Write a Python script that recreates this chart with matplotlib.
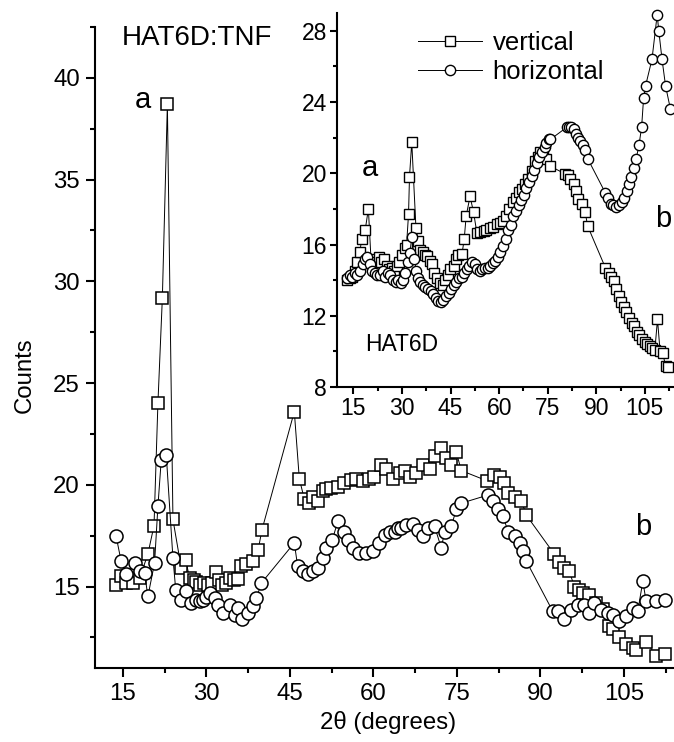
import matplotlib
matplotlib.use("Agg")
import matplotlib.pyplot as plt
from matplotlib.ticker import MultipleLocator
from matplotlib.lines import Line2D

plt.rcParams["font.family"] = ["Liberation Sans", "DejaVu Sans"]

# ---- HAT6D:TNF (main panel) ----
main_vert_x = [13.8, 14.7, 15.6, 16.8, 18.0, 19.5, 20.6, 21.3, 22.1, 23.0, 24.0, 25.5,
               26.3, 27.0, 27.7, 28.2, 28.8, 29.6, 30.3, 31.0, 31.7, 32.3, 32.9, 33.6,
               34.2, 35.0, 35.7, 36.3, 37.2, 38.4, 39.3, 40.0, 45.8, 46.7, 47.6, 48.5,
               49.1, 50.0, 50.9, 51.5, 52.4, 53.6, 54.8, 56.0, 56.9, 58.1, 59.3, 60.2,
               61.4, 62.3, 63.5, 64.7, 65.6, 66.5, 67.7, 68.9, 70.1, 71.0, 72.2, 73.1,
               74.0, 74.9, 75.8, 80.4, 81.6, 82.7, 83.4, 84.2, 85.4, 86.6, 87.5, 92.5,
               93.4, 94.3, 95.2, 96.1, 97.0, 97.6, 98.8, 100.0, 101.2, 102.4, 103.0,
               104.2, 105.4, 106.6, 107.2, 109.0, 110.8, 112.3]
main_vert_y = [15.1, 15.5, 15.2, 15.2, 15.4, 16.6, 18.0, 24.0, 29.2, 38.7, 18.3, 15.9,
               16.3, 15.4, 15.3, 15.25, 15.1, 15.2, 15.1, 15.2, 15.7, 15.3, 15.1, 15.2,
               15.4, 15.3, 15.35, 16.0, 16.1, 16.25, 16.8, 17.8, 23.6, 20.3, 19.3, 19.1,
               19.4, 19.2, 19.7, 19.8, 19.85, 19.9, 20.1, 20.25, 20.3, 20.2, 20.3, 20.4,
               21.0, 20.8, 20.3, 20.6, 20.7, 20.4, 20.6, 21.0, 20.8, 21.4, 21.8, 21.3,
               21.0, 21.6, 20.7, 20.2, 20.5, 20.4, 20.1, 19.6, 19.4, 19.2, 18.5, 16.6,
               16.2, 15.9, 15.75, 15.0, 14.85, 14.7, 14.6, 14.2, 13.9, 13.05, 12.9,
               12.5, 12.2, 12.0, 11.9, 12.3, 11.6, 11.7]

main_horz_x = [13.8, 14.7, 15.6, 17.1, 18.0, 18.9, 19.5, 20.7, 21.3, 21.9, 22.8, 24.0,
               24.5, 25.5, 26.4, 27.3, 28.2, 28.8, 29.4, 30.0, 30.6, 31.5, 32.1, 33.0,
               34.2, 35.1, 35.7, 36.4, 37.5, 38.4, 39.0, 39.9, 45.8, 46.4, 47.3, 48.2,
               49.1, 50.0, 50.9, 51.5, 52.6, 53.6, 54.8, 55.4, 56.3, 57.5, 58.7, 59.9,
               61.1, 62.0, 62.9, 63.8, 64.4, 65.0, 65.9, 67.1, 68.0, 68.9, 69.8, 71.0,
               72.2, 72.8, 74.0, 74.9, 75.8, 80.6, 81.5, 82.4, 83.3, 84.2, 85.4, 86.3,
               86.9, 87.5, 92.2, 93.1, 94.3, 95.5, 96.7, 97.9, 98.8, 99.7, 100.9, 102.1,
               103.0, 104.2, 105.4, 106.6, 107.5, 108.4, 109.0, 110.8, 112.3]
main_horz_y = [17.47, 16.24, 15.6, 16.16, 15.75, 15.67, 14.52, 16.16, 18.94, 21.24, 21.48,
               16.4, 14.85, 14.36, 14.77, 14.2, 14.36, 14.3, 14.36, 14.5, 14.69, 14.44,
               14.1, 13.7, 14.1, 13.6, 13.95, 13.4, 13.7, 14.03, 14.44, 15.18, 17.15,
               16.0, 15.75, 15.6, 15.75, 15.92, 16.4, 16.9, 17.27, 18.2, 17.7, 17.3,
               16.9, 16.65, 16.65, 16.73, 17.15, 17.55, 17.7, 17.7, 17.9, 17.9, 18.05,
               18.1, 17.8, 17.5, 17.9, 17.96, 16.9, 17.7, 17.96, 18.8, 19.1, 19.5, 19.2,
               18.8, 18.45, 17.7, 17.5, 17.15, 16.73, 16.24, 13.8, 13.8, 13.4, 13.87,
               14.1, 14.1, 13.7, 14.2, 13.87, 13.7, 13.6, 13.3, 13.54, 13.95, 13.8,
               15.26, 14.28, 14.28, 14.36]

# ---- HAT6D (inset) ----
ins_vert_x = [13.0, 13.8, 14.6, 15.4, 16.2, 17.0, 17.5, 18.6, 19.6, 20.4, 21.2, 22.0,
              22.8, 23.6, 24.4, 25.2, 26.0, 26.8, 27.6, 28.4, 29.2, 30.0, 30.8, 31.4,
              32.0, 32.3, 33.0, 34.3, 35.0, 35.6, 36.4, 37.2, 37.7, 38.5, 39.2, 40.0,
              40.8, 41.8, 42.6, 43.4, 44.2, 44.9, 45.9, 46.6, 47.4, 48.5, 49.2, 49.8,
              51.0, 52.1, 53.1, 54.0, 55.2, 56.0, 57.2, 58.0, 59.3, 60.2, 61.3, 62.1,
              62.9, 64.4, 65.2, 66.0, 67.0, 68.1, 69.0, 70.1, 71.2, 72.0, 72.7, 73.6,
              74.6, 75.8, 80.4, 81.2, 82.0, 83.0, 83.8, 84.5, 85.6, 86.6, 87.3, 92.8,
              93.8, 94.6, 95.4, 96.2, 96.9, 97.7, 98.5, 99.3, 100.1, 100.9, 101.7,
              102.5, 103.3, 104.1, 104.9, 105.7, 106.5, 107.3, 108.1, 108.9, 109.7,
              110.5, 111.4, 112.3]
ins_vert_y = [14.0, 14.1, 14.2, 14.5, 15.0, 15.6, 16.3, 16.8, 18.0, 15.2, 14.8, 15.0,
              15.3, 15.0, 15.2, 14.8, 14.6, 14.7, 14.5, 14.8, 15.0, 15.4, 15.8, 16.0,
              17.7, 19.8, 21.75, 16.9, 16.2, 15.7, 15.6, 15.4, 15.35, 15.1, 14.9, 14.4,
              14.1, 13.85, 13.7, 14.0, 14.3, 14.6, 14.8, 15.2, 15.4, 15.45, 16.3, 17.6,
              18.7, 17.8, 16.67, 16.7, 16.76, 16.8, 16.95, 17.0, 17.14, 17.2, 17.33, 17.6,
              17.99, 18.37, 18.6, 18.93, 19.1, 19.4, 19.7, 20.15, 20.7, 20.9, 21.2, 21.0,
              20.8, 20.4, 19.96, 19.9, 19.7, 19.4, 19.0, 18.55, 18.27, 17.8, 17.05, 14.7,
              14.4, 14.2, 13.94, 13.5, 13.1, 12.8, 12.5, 12.2, 11.9, 11.6, 11.4,
              11.1, 10.9, 10.7, 10.5, 10.4, 10.3, 10.2, 10.1, 11.8, 10.0,
              9.9, 9.2, 9.1]

ins_horz_x = [13.0, 13.8, 14.6, 15.4, 16.2, 17.0, 17.8, 18.5, 19.2, 20.0, 20.8, 21.6,
              22.4, 23.2, 24.0, 24.8, 25.6, 26.4, 27.2, 28.0, 28.8, 29.6, 30.4, 31.0,
              31.8, 32.4, 33.0, 33.8, 34.4, 35.0, 35.6, 36.4, 37.2, 38.0, 38.8, 39.6,
              40.4, 41.2, 42.0, 42.8, 43.6, 44.4, 45.2, 46.0, 46.8, 47.6, 48.4, 49.2,
              50.0, 50.8, 51.6, 52.4, 53.2, 54.0, 54.8, 55.6, 56.4, 57.2, 58.0, 58.8,
              59.6, 60.4, 61.2, 62.0, 62.8, 63.6, 64.4, 65.2, 66.0, 66.8, 67.6, 68.4,
              69.2, 70.0, 70.8, 71.6, 72.4, 73.2, 74.0, 74.6, 75.3, 75.8, 81.0, 81.6,
              82.2, 83.0, 83.6, 84.2, 85.0, 85.8, 86.6, 87.4, 92.8, 93.6, 94.4, 95.2,
              96.0, 96.9, 97.8, 98.6, 99.4, 100.2, 100.8, 101.6, 102.3, 103.2, 104.0,
              104.6, 105.2, 107.2, 108.8, 109.3, 110.3, 111.4, 112.9]
ins_horz_y = [14.1, 14.3, 14.2, 14.4, 14.3, 14.5, 14.9, 15.2, 15.3, 14.9, 14.5, 14.4,
              14.3, 14.3, 14.5, 14.2, 14.4, 14.3, 14.0, 13.9, 14.0, 13.85, 14.0, 14.4,
              15.0, 15.5, 16.4, 15.2, 14.5, 14.1, 13.9, 13.7, 13.6, 13.5, 13.4, 13.2,
              13.0, 12.85, 12.8, 12.9, 13.1, 13.3, 13.5, 13.7, 13.9, 14.1, 14.2, 14.4,
              14.6, 14.8, 15.0, 14.9, 14.6, 14.5, 14.6, 14.7, 14.7, 14.8, 14.95, 15.1,
              15.3, 15.6, 15.9, 16.3, 16.8, 17.1, 17.6, 17.9, 18.2, 18.5, 18.8, 19.2,
              19.5, 19.85, 20.2, 20.6, 20.9, 21.2, 21.5, 21.7, 21.9, 21.9, 22.6, 22.6,
              22.6, 22.5, 22.2, 22.0, 21.8, 21.6, 21.3, 20.8, 18.9, 18.6, 18.3, 18.2,
              18.1, 18.2, 18.4, 18.6, 19.0, 19.4, 19.8, 20.3, 20.8, 21.6, 22.6,
              24.2, 24.9, 26.4, 28.9, 28.0, 26.4, 24.9, 23.6]

series_labels = ["vertical", "horizontal"]
main_xticks = [15, 30, 45, 60, 75, 90, 105]
main_yticks = [15, 20, 25, 30, 35, 40]
inset_yticks = [8, 12, 16, 20, 24, 28]

W, H = 674, 742
fig = plt.figure(figsize=(W / 100, H / 100), dpi=100)

def style_axes(ax, fs, maj, mnr, pad):
    for s in ("top", "right"):
        ax.spines[s].set_visible(False)
    for s in ("left", "bottom"):
        ax.spines[s].set_linewidth(1.5)
    ax.tick_params(which="both", direction="out", width=1.5, labelsize=fs, pad=pad)
    ax.tick_params(which="major", length=maj)
    ax.tick_params(which="minor", length=mnr)
    ax.patch.set_alpha(0)

sq = dict(marker="s", mfc="white", mec="black", color="black", lw=0.7)
ci = dict(marker="o", mfc="white", mec="black", color="black", lw=0.7)

# main panel
ax = fig.add_axes([95 / W, 74 / H, (W - 95) / W, (668 - 27) / H])
ax.plot(main_vert_x, main_vert_y, ms=8.8, mew=1.1, clip_on=False, **sq)
ax.plot(main_horz_x, main_horz_y, ms=9.4, mew=1.1, clip_on=False, **ci)
ax.set_xlim(10, 114)
ax.set_ylim(11, 42.5)
ax.set_xticks(main_xticks)
ax.set_yticks(main_yticks)
ax.xaxis.set_minor_locator(MultipleLocator(7.5))
ax.yaxis.set_minor_locator(MultipleLocator(2.5))
style_axes(ax, 17.3, 6.5, 3.6, 4.3)
ax.text(17.2, 38.5, "a", fontsize=21, va="baseline", ha="left")
ax.text(107.0, 17.55, "b", fontsize=21, va="baseline", ha="left")
fig.text(122 / W, 1 - 45 / H, "HAT6D:TNF", fontsize=20, va="baseline", ha="left")
fig.text(25 / W, 1 - 375 / H, "Counts", fontsize=17.3, rotation=90,
         va="center", ha="center")
fig.text(388 / W, 1 - 722 / H, "2\u03b8 (degrees)", fontsize=17.3,
         va="center", ha="center")

# inset panel
axi = fig.add_axes([337.3 / W, (H - 387) / H, (W - 337.3) / W, (387 - 13) / H])
axi.plot(ins_vert_x, ins_vert_y, ms=6.8, mew=1.0, clip_on=False, **sq)
axi.plot(ins_horz_x, ins_horz_y, ms=7.4, mew=1.0, clip_on=False, **ci)
axi.set_xlim(10, 114)
axi.set_ylim(8, 29)
axi.set_xticks(main_xticks)
axi.set_yticks(inset_yticks)
axi.xaxis.set_minor_locator(MultipleLocator(7.5))
axi.yaxis.set_minor_locator(MultipleLocator(2))
style_axes(axi, 16.5, 5, 3, 2.5)
axi.text(17.6, 19.85, "a", fontsize=21, va="baseline", ha="left")
axi.text(108.3, 16.97, "b", fontsize=21, va="baseline", ha="left")
axi.text(18.6, 10.03, "HAT6D", fontsize=16.5, va="baseline", ha="left")

handles = [Line2D([], [], ms=6.8, mew=1.0, **sq), Line2D([], [], ms=7.4, mew=1.0, **ci)]
fig.legend(handles, series_labels, loc="upper left",
           bbox_to_anchor=(418 / W, 1 - 31 / H), frameon=False, fontsize=18.5,
           handlelength=2.5, handletextpad=0.4, labelspacing=0.2,
           borderpad=0, borderaxespad=0)

fig.savefig("out.png", dpi=100)
